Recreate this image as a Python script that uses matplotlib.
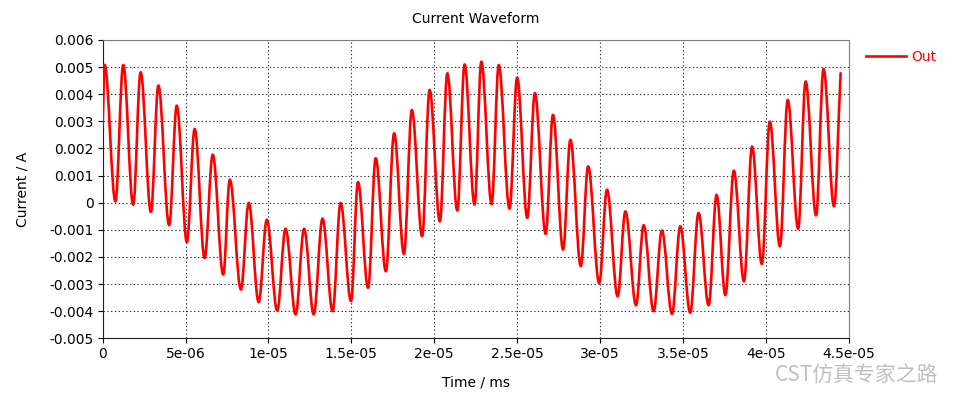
import numpy as np
from matplotlib import pyplot as plt
from matplotlib.path import Path
from matplotlib.patches import PathPatch
from matplotlib.lines import Line2D

# extrema of the waveform (time in 1e-6 ms, current in mA)
t_us = [0.0, 0.12, 0.77, 1.24, 1.84, 2.29, 2.91, 3.36, 4.01, 4.47, 5.08,
        5.55, 6.15, 6.64, 7.27, 7.67, 8.34, 8.81, 9.41, 9.90, 10.53,
        11.03, 11.64, 12.15, 12.73, 13.26, 13.87, 14.35, 14.98, 15.40, 16.01,
        16.47, 17.08, 17.58, 18.17, 18.65, 19.27, 19.72, 20.34, 20.79, 21.39,
        21.83, 22.43, 22.84, 23.46, 23.89, 24.54, 25.00, 25.61, 26.07, 26.72,
        27.16, 27.77, 28.21, 28.84, 29.28, 29.95, 30.42, 31.06, 31.53, 32.17,
        32.63, 33.23, 33.73, 34.34, 34.84, 35.44, 35.94, 36.55, 37.03, 37.56,
        38.07, 38.68, 39.17, 39.76, 40.24, 40.85, 41.32, 41.95, 42.40, 43.03,
        43.48, 44.11, 44.51]
i_ma = [2.90, 5.08, 0.05, 5.08, -0.07, 4.81, -0.34, 4.32, -0.83, 3.58, -1.45,
        2.72, -2.04, 1.77, -2.65, 0.85, -3.20, -0.01, -3.67, -0.63, -3.98,
        -0.96, -4.12, -0.96, -4.12, -0.59, -4.00, -0.01, -3.63, 0.76, -3.14,
        1.64, -2.53, 2.56, -1.89, 3.42, -1.24, 4.16, -0.69, 4.77, -0.29,
        5.10, -0.07, 5.20, -0.05, 5.08, -0.22, 4.61, -0.56, 4.04, -1.15,
        3.24, -1.73, 2.32, -2.34, 1.34, -2.96, 0.48, -3.45, -0.32, -3.78,
        -0.83, -4.00, -1.03, -4.10, -0.87, -4.06, -0.38, -3.78, 0.29, -3.41,
        1.18, -2.90, 2.07, -2.26, 2.99, -1.61, 3.79, -0.96, 4.47, -0.47,
        4.93, -0.13, 4.77]

x_ticks = [0, 5e-06, 1e-05, 1.5e-05, 2e-05, 2.5e-05, 3e-05, 3.5e-05, 4e-05, 4.5e-05]
x_tick_labels = ['0', '5e-06', '1e-05', '1.5e-05', '2e-05', '2.5e-05', '3e-05',
                 '3.5e-05', '4e-05', '4.5e-05']
y_ticks = [0.006, 0.005, 0.004, 0.003, 0.002, 0.001, 0, -0.001, -0.002, -0.003,
           -0.004, -0.005]
y_tick_labels = ['0.006', '0.005', '0.004', '0.003', '0.002', '0.001', '0', '-0.001',
                 '-0.002', '-0.003', '-0.004', '-0.005']

t = np.array(t_us) * 1e-6
cur = np.array(i_ma) * 1e-3

fig = plt.figure(figsize=(9.75, 3.96), dpi=100)
ax = fig.add_axes([0.1053, 0.1457, 0.7652, 0.7533])

# smooth bezier path through the extrema (flat tangent at each peak / trough)
k = 0.364
verts = [(t[0], cur[0])]
codes = [Path.MOVETO]
for n in range(len(t) - 1):
    dt = t[n + 1] - t[n]
    dv = cur[n + 1] - cur[n]
    if n == 0:
        c1 = (t[n] + k * dt, cur[n] + k * dv)
    else:
        c1 = (t[n] + k * dt, cur[n])
    if n == len(t) - 2:
        c2 = (t[n + 1] - k * dt, cur[n + 1] - k * dv)
    else:
        c2 = (t[n + 1] - k * dt, cur[n + 1])
    verts += [c1, c2, (t[n + 1], cur[n + 1])]
    codes += [Path.CURVE4, Path.CURVE4, Path.CURVE4]
ax.add_patch(PathPatch(Path(verts, codes), fill=False, edgecolor='#ff0000', lw=1.9,
                       joinstyle='round', capstyle='round', zorder=3))

ax.set_xlim(0, 4.5e-05)
ax.set_ylim(-0.005, 0.006)
ax.set_xticks(x_ticks)
ax.set_xticklabels(x_tick_labels)
ax.set_yticks(y_ticks)
ax.set_yticklabels(y_tick_labels)
ax.tick_params(axis='both', direction='out', length=3.5, width=0.8, labelsize=10,
               colors='black', pad=3)
ax.grid(True, color='#303030', linestyle=(0, (1.2, 2.2)), linewidth=0.8)

for side in ['left', 'bottom']:
    ax.spines[side].set_color('#202020')
for side in ['top', 'right']:
    ax.spines[side].set_color('#808080')

ax.set_title('Current Waveform', fontsize=10, pad=12)
ax.set_xlabel('Time / ms', fontsize=10, labelpad=10)
ax.set_ylabel('Current / A', fontsize=10, labelpad=14)

handle = Line2D([], [], color='#ff0000', lw=1.9)
ax.legend([handle], ['Out'], loc='upper left', bbox_to_anchor=(0.888, 0.873),
          bbox_transform=fig.transFigure, frameon=False, fontsize=10,
          labelcolor='#ff0000', handlelength=2.9, handletextpad=0.4,
          borderaxespad=0, borderpad=0)

# watermark
fig.text(0.795, 0.05, 'CST仿真专家之路', fontsize=15, color='#b0b0b0', alpha=0.8,
         family=['Noto Sans CJK SC', 'DejaVu Sans'], va='center')

fig.savefig('out.png', dpi=100)
